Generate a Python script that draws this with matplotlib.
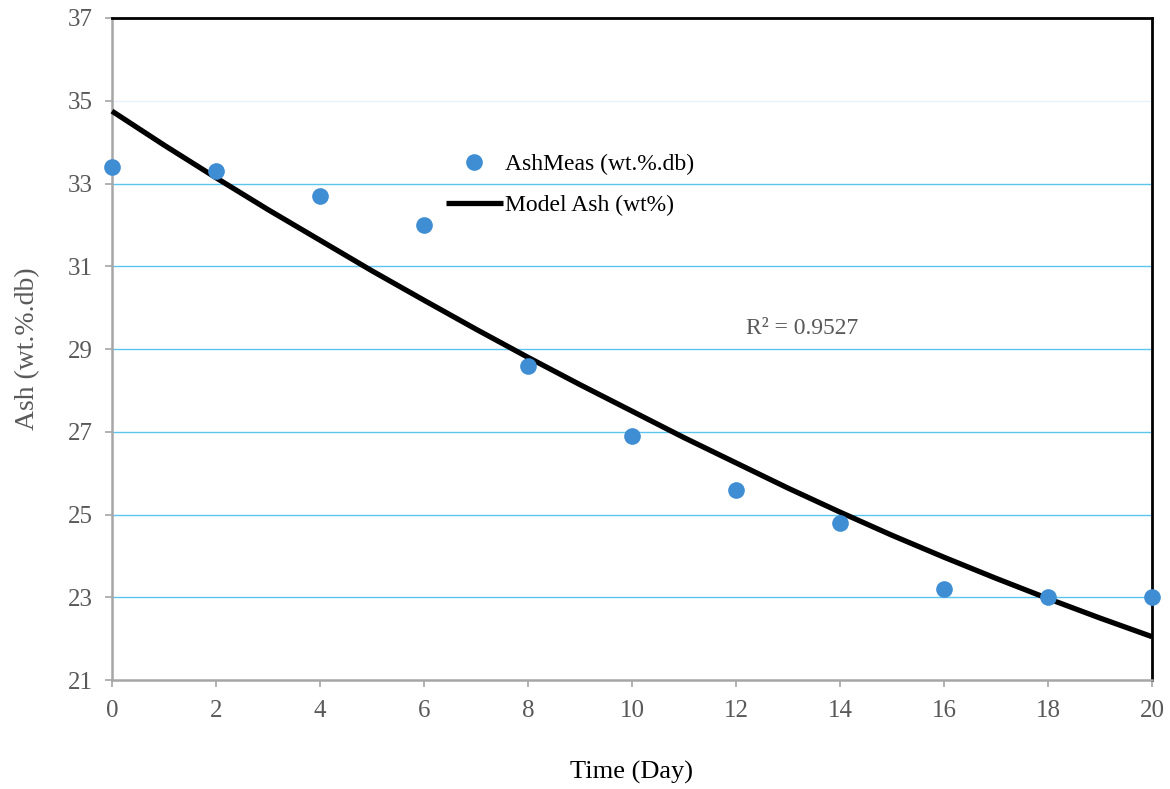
import numpy as np
import matplotlib.pyplot as plt

plt.rcParams['font.family'] = ['Liberation Serif', 'DejaVu Serif']

days = [0, 2, 4, 6, 8, 10, 12, 14, 16, 18, 20]
ash_meas = [33.4, 33.3, 32.7, 32.0, 28.6, 26.9, 25.6, 24.8, 23.2, 23.0, 23.0]
model_days = list(range(0, 21))
model_ash = [34.75, 33.93, 33.14, 32.37, 31.63, 30.89, 30.18, 29.48, 28.80, 28.14, 27.50,
             26.86, 26.25, 25.64, 25.06, 24.50, 23.97, 23.46, 22.97, 22.50, 22.05]
xticks = list(range(0, 21, 2))
yticks = list(range(21, 38, 2))

fig = plt.figure(figsize=(11.7, 7.89), dpi=100)
ax = fig.add_axes([0.0957, 0.138, 0.8889, 0.8392])

ax.set_xlim(0, 20)
ax.set_ylim(21, 37)
ax.set_xticks(xticks)
ax.set_yticks(yticks)

ax.grid(axis='y', color='#5BC5EE', linewidth=1.0)
ax.set_axisbelow(True)
for lbl, gl in zip(yticks, ax.yaxis.get_gridlines()):
    if lbl >= 35:
        gl.set_color('#E6F3FB')
    if lbl == 21:
        gl.set_visible(False)

line, = ax.plot(model_days, model_ash, color='black', linewidth=3.8,
                solid_capstyle='butt', label='Model Ash (wt%)', zorder=3, clip_on=False)
pts, = ax.plot(days, ash_meas, 'o', color='#3F8ED3', markersize=12, markeredgewidth=0,
               label='AshMeas (wt.%.db)', zorder=4, clip_on=False)

for s in ['left', 'bottom']:
    ax.spines[s].set_color('#A6A6A6')
    ax.spines[s].set_linewidth(1.8)
for s in ['top', 'right']:
    ax.spines[s].set_color('black')
    ax.spines[s].set_linewidth(2.0)

ax.tick_params(axis='both', colors='#A6A6A6', labelcolor='#595959', labelsize=18,
               length=5, width=1.2)
ax.tick_params(axis='x', pad=9)
ax.tick_params(axis='y', pad=9)

ax.set_xlabel('Time (Day)', fontsize=19, color='black', labelpad=28)
ax.set_ylabel('Ash (wt.%.db)', fontsize=20, color='#595959', labelpad=20)

ax.text(0.664, 0.531, 'R² = 0.9527', transform=ax.transAxes, fontsize=17,
        color='#595959', ha='center', va='center')

ax.legend(handles=[pts, line], loc='upper left', bbox_to_anchor=(0.312, 0.81),
          frameon=False, fontsize=17, handlelength=2.4, handletextpad=0.1,
          labelspacing=0.85, borderaxespad=0)

fig.savefig('out.png', dpi=100)
